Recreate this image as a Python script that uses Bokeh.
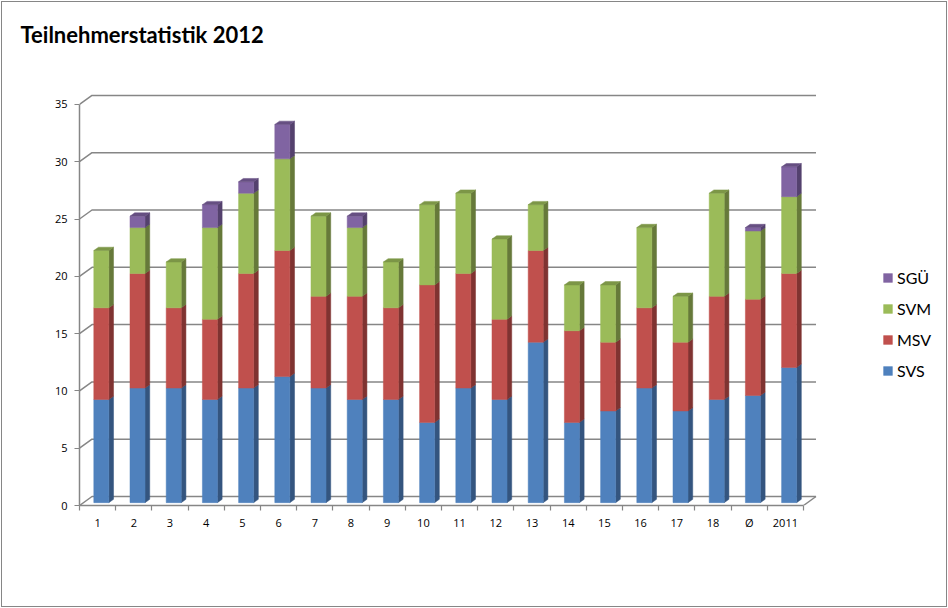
import numpy as np
from bokeh.embed import file_html
from bokeh.resources import INLINE
from bokeh.plotting import figure
from bokeh.models import Range1d, FixedTicker, Legend, LegendItem, Title

categories = ["1","2","3","4","5","6","7","8","9","10","11","12","13","14","15","16","17","18","Ø","2011"]
SVS = [9,10,10,9,10,11,10,9,9,7,10,9,14,7,8,10,8,9,9.35,11.8]
MSV = [8,10,7,7,10,11,8,9,8,12,10,7,8,8,6,7,6,9,8.4,8.2]
SVM = [5,4,4,8,7,8,7,6,4,7,7,7,4,4,5,7,4,9,5.95,6.7]
SGU = [0,1,0,2,1,3,0,1,0,0,0,0,0,0,0,0,0,0,0.3,2.6]
y_ticks = [0,5,10,15,20,25,30,35]
series_names = ["SVS","MSV","SVM","SGÜ"]
front_colors = ["#4F81BD","#C0504D","#9BBB59","#8064A2"]
side_colors = ["#34557F","#7F3331","#66793A","#54416D"]
top_colors = ["#3F6797","#9A403D","#7C9647","#664F82"]

# pixel scale of the drawing, expressed as data units
M = 2
W, H = 944, 604
FRAME_L, FRAME_TOP, FRAME_BOTTOM = 79 - M, 60 - M, 505 - M
PX_X, PX_Y = 36.2, 11.46
WALL_DX, WALL_DY = 12.5/PX_X, 9/PX_Y
BAR_L, BAR_W = 0.395, 0.415
BAR_DX, BAR_DY = 4.7/PX_X, 3.3/PX_Y
BASE = 0.25
GRID = "#868686"

p = figure(width=W, height=H, output_backend="svg", toolbar_location=None,
           x_range=Range1d(0, (W - FRAME_L)/PX_X), y_range=Range1d(0, (FRAME_BOTTOM - FRAME_TOP)/PX_Y),
           x_axis_location="below", y_axis_location="left",
           min_border_left=FRAME_L, min_border_right=0, min_border_top=FRAME_TOP, min_border_bottom=H - FRAME_BOTTOM,
           background_fill_color="white", border_fill_color="white", outline_line_color=None)
p.margin = (M, M, M, M)
p.styles = {"outline": "1.5px solid #868686", "outline-offset": "0px"}
p.grid.visible = False
p.add_layout(Title(text="Teilnehmerstatistik 2012", align="left", offset=20 - FRAME_L - M, standoff=25,
                   text_font="Lato", text_font_style="bold", text_font_size="22px", text_color="black"), "above")

n = len(categories)
# walls
xs, ys = [], []
for t in y_ticks:
    xs.append([0, WALL_DX, n + WALL_DX]); ys.append([t, t + WALL_DY, t + WALL_DY])
xs.append([n, n + WALL_DX]); ys.append([0, WALL_DY])
p.multi_line(xs, ys, line_color=GRID, line_width=1.5)

# bars
stack = [np.array(s, float) for s in (SVS, MSV, SVM, SGU)]
left = np.arange(n) + BAR_L
right = left + BAR_W
bottom = np.full(n, BASE)
legend_renderers = {}
for k, vals in enumerate(stack):
    top = bottom + vals
    mask = vals > 0
    sx = [[r, r + BAR_DX, r + BAR_DX, r] for r in right[mask]]
    sy = [[b, b + BAR_DY, t + BAR_DY, t] for b, t in zip(bottom[mask], top[mask])]
    p.patches(sx, sy, fill_color=side_colors[k], line_color=side_colors[k], line_width=0.5)
    legend_renderers[k] = p.vbar(x=(left + right)[mask]/2, width=BAR_W, bottom=bottom[mask], top=top[mask],
                                 fill_color=front_colors[k], line_color=front_colors[k], line_width=0.5)
    bottom = top

# top caps take the colour of the highest non-empty series
tops = bottom
caps = np.zeros(n, int)
for k, vals in enumerate(stack):
    caps[vals > 0] = k
for k in range(4):
    m = caps == k
    if m.any():
        cx = [[l, r, r + BAR_DX, l + BAR_DX] for l, r in zip(left[m], right[m])]
        cy = [[t, t, t + BAR_DY, t + BAR_DY] for t in tops[m]]
        p.patches(cx, cy, fill_color=top_colors[k], line_color=top_colors[k], line_width=0.5)

# axes
ax = p.xaxis[0]
ax.bounds = (0, n)
ax.ticker = FixedTicker(ticks=[i + 0.5 for i in range(n)], minor_ticks=list(range(n + 1)))
ax.major_label_overrides = {i + 0.5: c for i, c in enumerate(categories)}
ax.major_tick_line_color = None
ax.minor_tick_line_color = GRID
ax.minor_tick_line_width = 1.2
ax.minor_tick_out = 5
ax.minor_tick_in = 0
ax.axis_line_color = GRID
ax.axis_line_width = 1.5
ax.major_label_standoff = 3
ax.major_label_text_font = "Open Sans"
ax.major_label_text_font_size = "11px"
ax.major_label_text_color = "black"

ay = p.yaxis[0]
ay.bounds = (0, 35)
ay.ticker = FixedTicker(ticks=y_ticks)
ay.major_tick_line_color = GRID
ay.major_tick_line_width = 1.2
ay.major_tick_out = 5
ay.major_tick_in = 0
ay.minor_tick_line_color = None
ay.axis_line_color = GRID
ay.axis_line_width = 1.5
ay.major_label_standoff = 7
ay.major_label_text_font = "Open Sans"
ay.major_label_text_font_size = "11px"
ay.major_label_text_color = "black"

# legend
items = [LegendItem(label=series_names[k], renderers=[legend_renderers[k]]) for k in (3, 2, 1, 0)]
legend = Legend(items=items, location=(803, 125), orientation="vertical",
                glyph_width=11, glyph_height=11, label_height=20, spacing=11, label_standoff=4,
                padding=0, margin=0, border_line_color=None, background_fill_alpha=0,
                label_text_font="Lato", label_text_font_size="16px", label_text_color="black")
p.add_layout(legend)

open("out.html", "w").write(file_html(p, INLINE))
